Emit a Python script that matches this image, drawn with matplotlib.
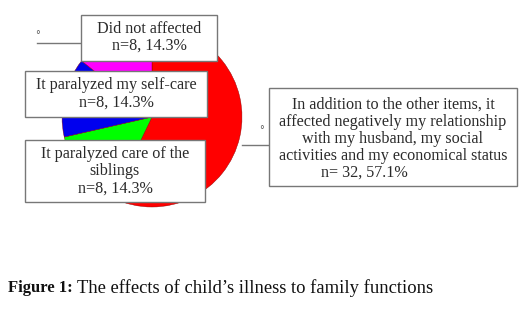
import matplotlib.pyplot as plt
from matplotlib.patches import Rectangle

# Efeitos da doença da criança nas funções familiares
labels = [['In addition to the other items, it',
           'affected negatively my relationship',
           'with my husband, my social',
           'activities and my economical status'],
          ['It paralyzed care of the', 'siblings'],
          ['It paralyzed my self-care'],
          ['Did not affected']]
counts = [32, 8, 8, 8]
colors = ['#ff0000', '#00ff00', '#0000ee', '#ff00ff']

W, H = 529, 311
total = sum(counts)
pct = [round(100 * c / total, 1) for c in counts]

fig = plt.figure(figsize=(W / 100, H / 100), dpi=100)
ax = fig.add_axes([0, 0, 1, 1])

wedges, _ = ax.pie(counts, colors=colors, startangle=90, counterclock=False,
                   center=(152, H - 117), radius=90,
                   wedgeprops=dict(edgecolor='#8a0000', linewidth=0.3))
ax.set_xlim(0, W)
ax.set_ylim(0, H)
ax.set_aspect('equal')
ax.axis('off')

# a área do gráfico corta o topo da pizza
clip = Rectangle((0, 0), W, H - 61, transform=ax.transData)
for w in wedges:
    w.set_clip_path(clip)

serif = 'Liberation Serif'
fs = 11.6
txt = '#2a2a2a'
edge = '#777777'


def box(x0, y0, x1, y1, lines, ys, xc=None):
    ax.add_patch(Rectangle((x0, H - y1), x1 - x0, y1 - y0, facecolor='white',
                           edgecolor=edge, linewidth=1, zorder=5))
    if xc is None:
        xc = (x0 + x1) / 2
    for line, y in zip(lines, ys):
        ax.text(xc, H - y, line, ha='center', va='center', fontsize=fs,
                family=serif, color=txt, zorder=6)


box(81, 15, 217, 61, labels[3] + [f'n={counts[3]}, {pct[3]}%'], [29, 46])
box(25, 71, 207, 117, labels[2] + [f'n={counts[2]}, {pct[2]}%'], [85, 103])
box(25, 140, 205, 202, labels[1] + [f'n={counts[1]}, {pct[1]}%'], [154, 171, 189])

# caixa da direita (última linha alinhada à esquerda)
box(269, 88, 517, 186, labels[0], [105, 122, 139, 156], xc=393)
ax.text(321, H - 173, f'n= {counts[0]}, {pct[0]}%', ha='left', va='center',
        fontsize=fs, family=serif, color=txt, zorder=6)

# linhas de chamada
ax.plot([37, 81], [H - 43, H - 43], color=edge, lw=1, zorder=4)
ax.text(38, H - 35, '°', ha='center', va='center', fontsize=7, color='#555555')
ax.plot([242, 269], [H - 145, H - 145], color=edge, lw=1, zorder=4)
ax.text(262, H - 130, '°', ha='center', va='center', fontsize=7, color='#555555')

# legenda da figura
fig.text(8 / W, 1 - 288 / H, 'Figure 1:', fontsize=12, family=serif,
         fontweight='bold', ha='left', va='center', color='#111111')
fig.text(77 / W, 1 - 288 / H, 'The effects of child\u2019s illness to family functions',
         fontsize=13.4, family=serif, ha='left', va='center', color='#111111')

fig.savefig('out.png', dpi=100)
